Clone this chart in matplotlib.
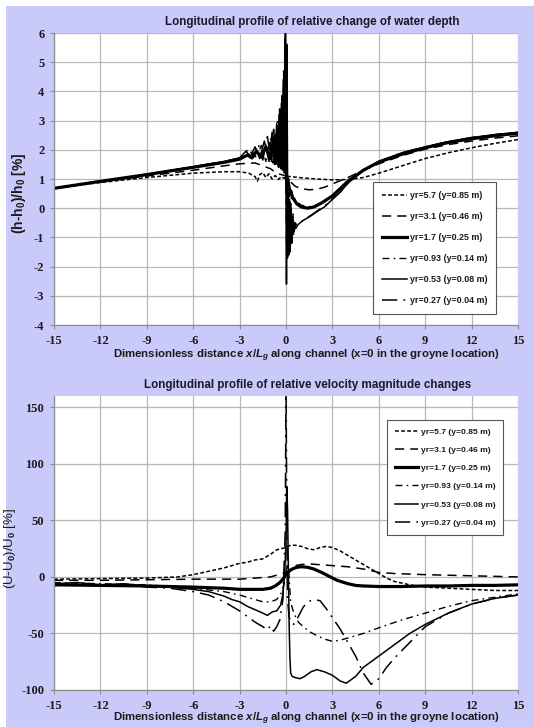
import matplotlib
matplotlib.use('Agg')
import matplotlib.pyplot as plt
from matplotlib.patches import Rectangle

# ---- data: relative change of water depth (top panel) ----
labels = ['yr=5.7 (y=0.85 m)', 'yr=3.1 (y=0.46 m)', 'yr=1.7 (y=0.25 m)',
          'yr=0.93 (y=0.14 m)', 'yr=0.53 (y=0.08 m)', 'yr=0.27 (y=0.04 m)']

d57_x = [-15, -12, -9, -6, -4, -3, -2.4, -2.0, -1.85, -1.7, -1.5, -1.3, -1.1, -0.9, -0.7, -0.5, -0.3, -0.1,
         0.0, 0.3, 0.7, 1.0, 2.0, 3.0, 4.0, 5.0, 6.0, 7.5, 9.0, 10.5, 12.0, 13.5, 15.0]
d57_y = [0.68, 0.88, 1.05, 1.2, 1.25, 1.25, 1.2, 1.08, 0.93, 1.15, 1.22, 1.05, 1.18, 1.0, 1.12, 0.98, 1.08, 1.02,
         1.1, 1.08, 1.06, 1.04, 1.0, 0.97, 0.98, 1.05, 1.2, 1.45, 1.7, 1.9, 2.07, 2.22, 2.35]

d31_x = [-15, -12, -9, -6, -4, -3, -2, -1.5, -1, -0.6, -0.3, 0, 0.3, 0.6, 1.0, 1.5, 2.0, 2.5, 3.0,
         4.0, 5.0, 6.0, 7.5, 9, 10.5, 12, 13.5, 15]
d31_y = [0.68, 0.9, 1.1, 1.3, 1.45, 1.52, 1.55, 1.45, 1.35, 1.2, 1.15, 1.1, 0.9, 0.75, 0.67, 0.63, 0.65, 0.72, 0.83,
         1.05, 1.3, 1.52, 1.8, 2.02, 2.18, 2.3, 2.4, 2.48]

d17_x = [-15, -12, -9, -6, -4, -3, -2.5, -2.2, -1.9, -1.6, -1.3, -1.0, -0.8, -0.65, -0.5, -0.38, -0.27, -0.17,
         -0.09, -0.03, 0.0, 0.05, 0.12, 0.2, 0.3, 0.45, 0.7, 1.0, 1.4, 1.8, 2.3, 3.0, 4.0, 5.0, 6.0, 7.5,
         9, 10.5, 12, 13.5, 15]
d17_y = [0.68, 0.92, 1.15, 1.4, 1.57, 1.68, 1.82, 1.72, 1.95, 1.75, 2.1, 1.7, 2.4, 1.6, 2.8, 1.5, 3.3, 1.4,
         4.2, 1.3, 5.6, 0.9, 1.0, 0.7, 0.55, 0.35, 0.15, 0.04, 0.0, 0.04, 0.18, 0.42, 0.92, 1.3, 1.58, 1.85,
         2.07, 2.25, 2.38, 2.48, 2.57]

d093_x = [-15, -12, -9, -6, -4, -3, -2.5, -2.2, -1.9, -1.6, -1.3, -1.0, -0.85, -0.7, -0.56, -0.44, -0.33,
          -0.23, -0.14, -0.06, 0.0, 0.04, 0.09, 0.15, 0.21, 0.28, 0.36, 0.45, 0.6, 0.8, 1.0, 1.5, 2.0, 2.5,
          3.0, 4.0, 5.0, 6.0, 7.5, 9, 10.5, 12, 13.5, 15]
d093_y = [0.68, 0.92, 1.15, 1.4, 1.58, 1.7, 1.78, 1.95, 1.72, 2.15, 1.6, 2.4, 1.55, 2.6, 1.5, 3.1, 1.35,
          3.7, 1.25, 4.6, 1.0, -1.4, 0.9, -1.1, 0.8, -0.6, 0.6, 0.4, 0.3, 0.18, 0.1, 0.05, 0.1, 0.22,
          0.4, 0.9, 1.3, 1.58, 1.87, 2.08, 2.26, 2.4, 2.5, 2.58]

d053_x = [-15, -12, -9, -6, -4, -3, -2.6, -2.3, -2.0, -1.7, -1.4, -1.1, -0.9, -0.75, -0.6, -0.52, -0.45,
          -0.38, -0.3, -0.24, -0.18, -0.12, -0.07, -0.03, 0.0, 0.03, 0.06, 0.1, 0.14, 0.18, 0.22, 0.27,
          0.32, 0.37, 0.42, 0.48, 0.55, 0.62, 0.8, 1.1, 1.5, 2.0, 2.5, 3.0, 3.5, 4.0, 5.0, 6.0, 7.5,
          9, 10.5, 12, 13.5, 15]
d053_y = [0.68, 0.92, 1.16, 1.42, 1.6, 1.72, 1.95, 1.78, 2.1, 1.7, 2.3, 1.6, 2.6, 1.5, 2.9, 1.45, 3.2,
          1.4, 3.6, 1.3, 4.4, 1.2, 5.2, 6.5, 1.0, -2.6, 0.6, -1.7, 0.5, -1.6, 0.3, -1.5,
          0.0, -1.2, -0.3, -0.9, -0.5, -0.7, -0.55, -0.42, -0.3, -0.12, 0.05, 0.3, 0.55, 0.85, 1.3, 1.6, 1.9,
          2.1, 2.28, 2.42, 2.52, 2.6]

d027_x = [-15, -12, -9, -6, -4, -3, -2.7, -2.4, -2.1, -1.8, -1.5, -1.2, -0.95, -0.8, -0.66, -0.55, -0.48,
          -0.41, -0.34, -0.27, -0.21, -0.15, -0.1, -0.05, 0.0, 0.04, 0.08, 0.12, 0.16, 0.2, 0.25, 0.3,
          0.35, 0.4, 0.46, 0.52, 0.6, 0.7, 0.9, 1.2, 1.6, 2.0, 2.5, 3.0, 3.5, 4.0, 5.0, 6.0, 7.5,
          9, 10.5, 12, 13.5, 15]
d027_y = [0.68, 0.92, 1.16, 1.42, 1.6, 1.72, 1.85, 2.05, 1.75, 2.2, 1.65, 2.45, 1.55, 2.7, 1.5, 3.0, 1.4,
          3.4, 1.35, 3.9, 1.25, 4.7, 1.15, 5.8, 0.9, -1.2, 0.7, -1.6, 0.6, -1.4, 0.2, -1.3,
          -0.1, -1.0, -0.2, -0.8, -0.5, -0.6, -0.5, -0.38, -0.25, -0.1, 0.08, 0.32, 0.55, 0.85, 1.3, 1.6, 1.9,
          2.1, 2.28, 2.42, 2.52, 2.6]

# ---- data: relative velocity magnitude changes (bottom panel) ----
v57_x = [-15, -12, -9, -7, -6, -5, -4, -3, -2.5, -2, -1.5, -1, -0.6, -0.3, 0, 0.3, 0.6, 1.0, 1.4, 1.8,
         2.2, 2.6, 3.0, 3.5, 4.0, 4.5, 5.0, 5.5, 6.0, 6.5, 7.0, 8.0, 9, 10.5, 12, 13.5, 15]
v57_y = [-2, -1.5, -1, 0, 2, 5, 8, 12, 13, 15, 16, 20, 24, 25, 26, 28, 28, 27, 25, 24,
         26, 27, 26, 23, 19, 15, 11, 7, 3, -1, -4, -7, -9, -10, -11, -12, -12]

v31_x = [-15, -12, -9, -6, -4, -3, -2, -1, -0.5, 0, 0.3, 0.6, 1.0, 1.5, 2, 3, 4, 5, 6, 7, 9, 12, 15]
v31_y = [-3, -3, -2.5, -2, -2, -2, -1, 0, 2, 4, 7, 10, 11, 11.5, 11, 10, 9, 7, 4, 3, 2, 1, 0]

v17_x = [-15, -12, -9, -6, -4, -3, -2, -1.5, -1, -0.7, -0.4, -0.2, 0, 0.2, 0.4, 0.7, 1.0, 1.4, 1.8,
         2.3, 2.8, 3.3, 4, 4.5, 5, 6, 7.5, 9, 10.5, 12, 13.5, 15]
v17_y = [-7, -7.5, -8, -9, -10, -11, -11, -11, -10, -8, -5, -2, 2, 5, 7, 8.5, 9, 8.5, 7,
         4, 0.5, -3, -6, -7.5, -8, -8.5, -8.5, -8, -8, -7.5, -7.5, -7]

v093_x = [-15, -12, -9, -6, -4, -3, -2.5, -2, -1.5, -1, -0.6, -0.3, -0.1, 0, 0.1, 0.2, 0.3, 0.5, 0.8,
          1.2, 1.6, 2.0, 2.5, 3.0, 3.5, 4, 5, 6, 7.5, 9, 10.5, 12, 13.5, 15]
v093_y = [-5, -6, -7, -10, -13, -16, -18, -20, -22, -22, -20, -14, -5, 5, 12, 0, -22, -32, -40,
          -45, -49, -52, -55, -57, -56, -54, -50, -45, -38, -32, -26, -21, -18, -15]

v053_x = [-15, -13.5, -12, -10.5, -9, -7.5, -6, -5, -4, -3.5, -3, -2.5, -2, -1.5, -1.2, -0.9, -0.6, -0.35,
          -0.2, -0.1, 0, 0.05, 0.1, 0.15, 0.2, 0.25, 0.3, 0.4, 0.6, 0.9, 1.2, 1.6, 2.0, 2.5, 3.0, 3.5, 3.9,
          4.5, 5, 6, 7, 8, 9, 10.5, 12, 13.5, 15]
v053_y = [-6, -5, -7, -6, -8, -9, -11, -13, -17, -20, -22, -26, -29, -32, -34, -31, -30, -25,
          -15, 0, 30, 80, 60, 10, -40, -70, -85, -88, -89, -90, -88, -84, -82, -84, -87, -92, -94,
          -88, -80, -70, -60, -50, -42, -32, -24, -19, -16]

v027_x = [-15, -13.5, -12, -10.5, -9, -7.5, -6, -5, -4, -3, -2.5, -2, -1.5, -1.2, -1, -0.8, -0.6, -0.4,
          -0.2, -0.05, 0, 0.05, 0.1, 0.2, 0.3, 0.5, 0.8, 1.1, 1.4, 1.8, 2.2, 2.6, 3.0, 3.5, 4.0, 4.5,
          5.0, 5.5, 6.0, 6.5, 7, 8, 9, 10.5, 12, 13.5, 15]
v027_y = [-7, -6, -8, -7, -9, -10, -13, -16, -22, -30, -35, -40, -44, -47, -43, -48, -44, -38,
          -20, 40, 170, 60, -20, -35, -40, -42, -35, -27, -22, -20, -21, -28, -36, -46, -58, -70,
          -85, -95, -90, -80, -72, -58, -44, -32, -24, -19, -16]

x_ticks = list(range(-15, 16, 3))
depth_ticks = list(range(-4, 7))
vel_ticks = list(range(-100, 151, 50))

# line styles for the six runs
styles = [dict(lw=1.1, dashes=(2.5, 1.5)),
          dict(lw=1.1, dashes=(6, 4)),
          dict(lw=2.3, linestyle='-'),
          dict(lw=1.0, dashes=(5, 3, 1.2, 3)),
          dict(lw=1.1, linestyle='-'),
          dict(lw=1.1, dashes=(10, 4, 1.2, 4))]

plt.rcParams['font.family'] = 'Liberation Sans'
plt.rcParams['mathtext.fontset'] = 'custom'
plt.rcParams['mathtext.rm'] = 'Liberation Sans:bold'
plt.rcParams['mathtext.it'] = 'Liberation Sans:italic:bold'

W, H = 534, 727
fig = plt.figure(figsize=(W / 100, H / 100), dpi=100, facecolor='white')
fig.patches.append(Rectangle((6 / W, 0), 1 - 6 / W, 1 - 6 / H, transform=fig.transFigure,
                             facecolor='#cacafa', edgecolor='none', zorder=-10))

tick_font = dict(fontfamily='Liberation Serif', fontweight='bold', fontsize=9, color='#1a1a1a')

def style_axes(ax, ylim, yticks):
    ax.set_xlim(-15, 15)
    ax.set_ylim(*ylim)
    ax.set_xticks(x_ticks, [str(v) for v in x_ticks], **tick_font)
    ax.set_yticks(yticks, [str(v) for v in yticks], **tick_font)
    ax.set_facecolor('white')
    ax.grid(color='#b8b8b8', lw=0.9)
    ax.set_axisbelow(True)
    for s in ['top', 'right']:
        ax.spines[s].set_visible(False)
    for s in ['left', 'bottom']:
        ax.spines[s].set_color('#8c8c8c')
        ax.spines[s].set_linewidth(0.9)
    ax.tick_params(colors='#8c8c8c', length=3, width=0.8, pad=4, labelcolor='#1a1a1a')

def draw(ax, xs, ys):
    for x, y, st, lab in zip(xs, ys, styles, labels):
        ax.plot(x, y, color='black', label=lab, **st)

def add_legend(ax, anchor, spacing, pad, size):
    leg = ax.legend(loc='upper left', bbox_to_anchor=anchor, borderaxespad=0,
                    handlelength=2.8, handletextpad=0.3, labelspacing=spacing, borderpad=pad,
                    fancybox=False, framealpha=1, edgecolor='#555555',
                    prop={'weight': 'bold', 'size': size})
    leg.get_frame().set_linewidth(0.8)
    for t in leg.get_texts():
        t.set_color('#1a1a1a')
    return leg

# top panel
ax1 = fig.add_axes([54 / W, 1 - 325 / H, 464 / W, 292 / H])
draw(ax1, [d57_x, d31_x, d17_x, d093_x, d053_x, d027_x],
     [d57_y, d31_y, d17_y, d093_y, d053_y, d027_y])
style_axes(ax1, (-4, 6), depth_ticks)
ax1.set_ylabel(r'(h-h$_0$)/h$_0$ [%]', fontsize=10, fontweight='bold', color='#1a1a1a',
               labelpad=4, y=0.45)
add_legend(ax1, (0.688, 0.49), 1.35, 1.0, 6.4)

fig.text(312 / W, 1 - 22 / H, 'Longitudinal profile of relative change of water depth',
         ha='center', va='center', fontsize=8.4, fontweight='bold', color='#1a1a2a')
fig.text(306 / W, 1 - 356 / H, r'Dimensionless distance $x/L_g$ along channel (x=0 in the groyne location)',
         ha='center', va='center', fontsize=8.2, fontweight='bold', color='#1a1a1a')

# bottom panel
ax2 = fig.add_axes([54 / W, 1 - 690 / H, 464 / W, 294 / H])
draw(ax2, [v57_x, v31_x, v17_x, v093_x, v053_x, v027_x],
     [v57_y, v31_y, v17_y, v093_y, v053_y, v027_y])
style_axes(ax2, (-100, 160), vel_ticks)
ax2.set_ylabel(r'(U-U$_0$)/U$_0$ [%]', fontsize=9.5, color='#1a1a1a', labelpad=2, y=0.48)
add_legend(ax2, (0.718, 0.918), 1.22, 0.9, 6.1)

fig.text(308 / W, 1 - 385 / H, 'Longitudinal profile of relative velocity magnitude changes',
         ha='center', va='center', fontsize=8.4, fontweight='bold', color='#1a1a2a')
fig.text(306 / W, 1 - 719 / H, r'Dimensionless distance $x/L_g$ along channel (x=0 in the groyne location)',
         ha='center', va='center', fontsize=8.2, fontweight='bold', color='#1a1a1a')

fig.savefig('out.png', dpi=100, facecolor=fig.get_facecolor())
